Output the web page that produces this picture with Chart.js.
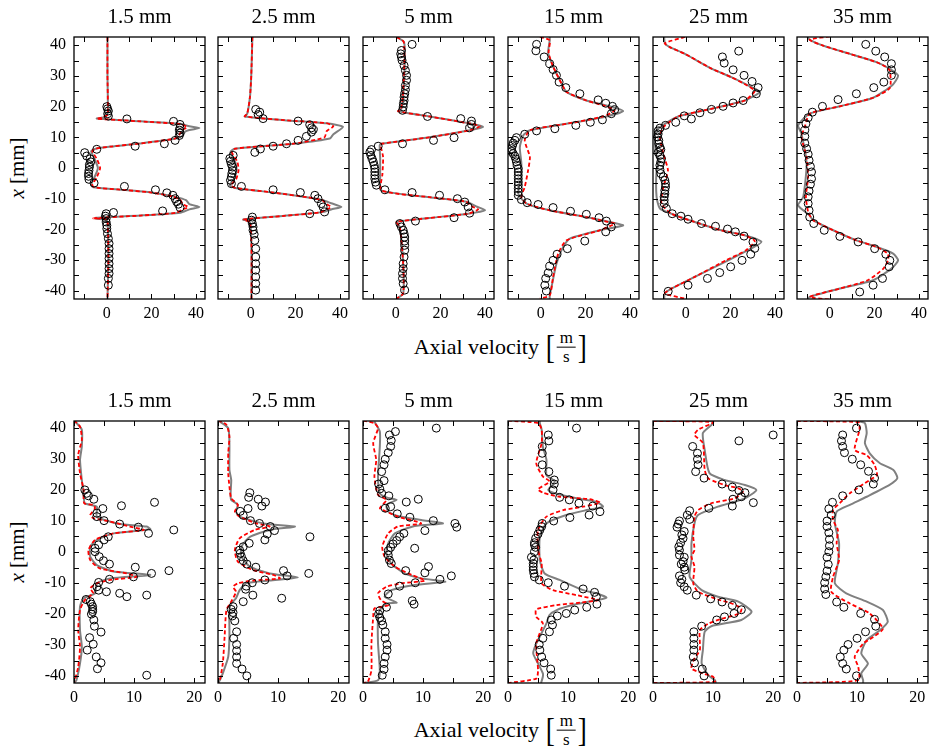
<!DOCTYPE html>
<html><head><meta charset="utf-8">
<script src="https://cdn.jsdelivr.net/npm/chart.js@4.4.1/dist/chart.umd.min.js"></script>
<style>
html,body{margin:0;padding:0;background:#fff;}
#wrap{position:relative;width:933px;height:746px;overflow:hidden;background:#fff;}
canvas{position:absolute;}
.ylab{position:absolute;transform:translate(-50%,-50%) rotate(-90deg);font-family:'Liberation Serif','Times New Roman','DejaVu Serif',serif;font-size:21px;white-space:nowrap;color:#000;}
.vel{position:absolute;transform:translate(-50%,-50%);font-family:'Liberation Serif','Times New Roman','DejaVu Serif',serif;font-size:22px;display:flex;align-items:center;white-space:pre;color:#000;}
.bk{font-size:34px;line-height:1;display:inline-block;transform:scaleX(0.8);}
.fr{display:inline-flex;flex-direction:column;align-items:center;font-size:17px;line-height:1.05;margin:0 1px;}
.fr .n{border-bottom:1px solid #000;padding:0 3px;}
</style></head>
<body><div id="wrap">
<div class="ylab" style="left:17px;top:168px"><i>x</i> [mm]</div>
<div class="ylab" style="left:17px;top:552px"><i>x</i> [mm]</div>
<div class="vel" style="left:501px;top:347px">Axial velocity <span class="bk">[</span><span class="fr"><span class="n">m</span><span class="d">s</span></span><span class="bk">]</span></div>
<div class="vel" style="left:501px;top:730px">Axial velocity <span class="bk">[</span><span class="fr"><span class="n">m</span><span class="d">s</span></span><span class="bk">]</span></div>
</div>
<script>
// ---------------- DATA ----------------
const distances = ["1.5 mm","2.5 mm","5 mm","15 mm","25 mm","35 mm"];
const yTicks = [-40,-35,-30,-25,-20,-15,-10,-5,0,5,10,15,20,25,30,35,40];
const yTickLabels = [-40,-30,-20,-10,0,10,20,30,40];
const xTicksTop = [-10,0,10,20,30,40];
const xTickLabelsTop = [0,20,40];
const xTicksBottom = [0,5,10,15,20];
const xTickLabelsBottom = [0,10,20];

// pairs are [axial velocity, x position mm]
// ---- top row ----
const T1_gray = [[0.3,42.7],[0.3,30],[0.5,20],[0.3,17.5],[-1.5,16.5],[-4.5,16.1],[15,15.2],[33,14.4],[37,13.6],[41.5,13],[37,12.4],[35,11.8],[34,10.5],[31,9.6],[15,8],[2,7],[-5,6.3],[-7,5.5],[-5.5,3],[-4,0],[-5.5,-3],[-7,-5.5],[-6,-6.3],[5,-7],[20,-8],[31,-9.5],[35.5,-10.5],[37,-11.8],[41.5,-12.7],[37,-13.5],[33,-14.6],[15,-15.5],[-5,-16.2],[-5,-16.5],[0,-17],[0.5,-20],[0.7,-30],[0.3,-42.7]];
const T1_red = [[0.3,42.7],[0.3,30],[0.5,20],[0.3,17.3],[-2,16.5],[-4.5,16.1],[15,15.2],[33,14.3],[36,13.3],[34,12.5],[33,11.5],[32,10.3],[30,9.5],[15,8],[2,7],[-5,6.3],[-6.5,5.5],[-4.5,3],[-3,0],[-4.5,-3],[-6.5,-5.5],[-5.5,-6.3],[5,-7],[20,-8],[30,-9.4],[33,-10.5],[34,-11.8],[36.5,-12.7],[34,-13.5],[31,-14.6],[15,-15.5],[-6,-16.4],[0,-16.8],[0.5,-20],[0.7,-30],[0.3,-42.7]];
const T1_exp = [[0,20],[0.3,19.3],[0.7,18.6],[0.4,17.7],[0.7,16.9],[9,16],[29.9,15.2],[32.8,14.2],[32.8,13.1],[32.5,12.3],[32.8,11.4],[32.5,10.6],[30.6,9],[25.8,7.9],[12.7,7.1],[-4.5,6.1],[-9.9,5],[-9,3.9],[-7.5,3],[-7.2,2],[-7.8,1.1],[-7.8,0.3],[-8,-0.8],[-8.2,-1.8],[-8.2,-2.7],[-8,-3.7],[-5.7,-4.9],[7.9,-6],[21.8,-7.1],[26.9,-8.1],[29.6,-8.9],[30.6,-10],[31.3,-11],[32.1,-11.8],[32.8,-12.9],[25,-14],[3,-14.5],[-0.3,-14.9],[-0.6,-15.7],[-0.3,-16.5],[-0.3,-17.6],[0,-18.7],[0,-19.8],[0.3,-21.4],[0.7,-23],[1,-24.6],[1,-26.3],[1,-27.9],[1,-29.5],[1,-31.2],[1,-32.8],[1,-34.4],[0.7,-36],[0.7,-38.2]];

const T2_gray = [[0.7,42.7],[0.2,30],[-0.4,23],[-1.6,17.7],[-2.7,16.8],[15,15.6],[33.9,14.6],[41.3,13.4],[37,11],[35.4,9.6],[20,8],[0,6.8],[-7.2,6.3],[-9.1,5.2],[-7,2],[-6.4,-0.8],[-7.5,-3.5],[-9.4,-5.6],[-7,-6.5],[10,-8],[25,-9.5],[32.4,-10.5],[36,-11.5],[40.6,-12.7],[36,-13.5],[33,-14.3],[15,-15.6],[-3.4,-16.8],[-0.4,-17.6],[0.3,-25.7],[0.3,-42.8]];
const T2_red = [[0.7,42.7],[0.2,30],[-0.4,23],[-1.6,17.7],[-2.7,16.8],[15,15.6],[33.9,14.6],[37,13.6],[34,12],[33,10],[20,8],[0,6.8],[-7,6.3],[-8.5,5.2],[-6,2],[-5.5,-0.8],[-6.5,-3.5],[-8.8,-5.6],[-7,-6.5],[10,-8],[25,-9.5],[32,-10.5],[34,-11.8],[36,-12.7],[33,-13.8],[31,-14.5],[15,-15.6],[-3.4,-16.8],[-0.4,-17.6],[0.3,-25.7],[0.3,-42.8]];
const T2_exp = [[2.2,19.1],[4,18.2],[3.3,17.4],[5.5,16.1],[21.2,15.3],[26.4,14.1],[27.2,13.1],[28,12.5],[27.2,11.7],[24.9,10.3],[21.2,9],[16,7.9],[10,7.1],[4.3,6.2],[1.8,5.1],[-7.9,4.1],[-9.4,3.1],[-9.1,2.2],[-8.7,1.2],[-8.2,0.3],[-8.2,-0.8],[-8.5,-1.8],[-8.7,-2.9],[-9.1,-4],[-8.7,-5.1],[-4.2,-6],[10,-7.1],[22.2,-8],[28.7,-8.9],[30.1,-10],[31.6,-11.6],[32.4,-12.7],[33.1,-14.3],[26.4,-14.9],[0.7,-16],[0.3,-17],[0.7,-18.1],[1,-19.2],[1,-20.3],[1.5,-21.6],[1.8,-23.6],[2.2,-26.3],[2.2,-29],[2.2,-31.2],[2.2,-33.3],[2.2,-35.5],[2.2,-37.7],[2.2,-39.8]];

const T3_gray = [[0.3,42.7],[3.7,41],[4,34],[3.3,23],[2.5,19.3],[1,18.5],[15,16.8],[33.9,14.4],[39.1,13.4],[33.1,12.3],[15,10],[-6.4,7.9],[-7.2,7.4],[-7,3],[-7,-3],[-6.7,-7.3],[15,-9.5],[31.6,-11],[36,-12.5],[39.9,-13.8],[32.4,-14.9],[15,-16.3],[0.3,-17.6],[1.8,-19.2],[3.3,-31.2],[3.3,-40.9],[0.3,-42.6]];
const T3_red = [[0.3,42.7],[3.5,41.2],[3.8,34],[3.1,23],[2.3,19.3],[1,18.5],[15,16.8],[33.9,14.4],[37.6,13.6],[33.1,12.3],[15,10],[-6.4,7.9],[-6.8,7.4],[-5.7,3.6],[-6,-2],[-6.5,-7.3],[15,-9.5],[31.6,-11],[34,-12.5],[36.9,-13.5],[32.4,-14.9],[15,-16.3],[0.3,-17.6],[1.8,-19.2],[3.3,-31.2],[3.3,-40.9],[0.3,-42.6]];
const T3_exp = [[7.3,40.3],[2.5,38.3],[2.2,37.2],[2.5,36.2],[2.8,35.1],[3.7,33.4],[4.3,31.8],[4.8,30.2],[4.8,28.6],[4.3,26.9],[4.3,25.5],[4,24.2],[3.7,23.1],[3.7,22],[3.4,21],[3.3,19.9],[3,18.8],[14.2,16.8],[29.1,16.1],[33.9,15.3],[33.9,14.2],[33.1,13.1],[26.1,9.9],[16.9,9],[3,7.9],[-7.9,7.1],[-10.9,6],[-11.6,5.2],[-11.2,4.1],[-10.6,3],[-10.1,2],[-9.7,0.9],[-9.4,-0.2],[-9.4,-1.3],[-9.4,-2.4],[-9.4,-3.5],[-9.1,-4.6],[-8.7,-5.6],[-4.9,-7.1],[7.3,-8],[19.6,-8.9],[27.6,-10],[30.9,-11.1],[32.4,-12.7],[33.1,-14.7],[26.1,-16.2],[8.8,-17.3],[1.8,-18.1],[2.5,-19.2],[3.3,-20.3],[3.7,-21.4],[4,-22.5],[4,-23.8],[4,-25.2],[4,-26.8],[3.7,-29],[3.3,-31.2],[3.3,-32.8],[3,-34.4],[3,-36],[3.3,-37.7],[4,-39.8]];

const T4_gray = [[4,42.7],[4,41.6],[3.3,37.5],[5.5,33.1],[9.3,27.5],[11.5,24.8],[20.4,22],[29.4,20.4],[36.9,18.6],[29.4,16.8],[11.5,14.4],[-4.9,12.3],[-7.9,10.6],[-9.4,6.8],[-8.7,1.4],[-9.1,-4],[-10.1,-8.4],[-6.4,-11.6],[4,-13.8],[20.4,-16],[30.9,-17.6],[36.9,-18.7],[26.4,-20.3],[13,-23],[10,-25.7],[7,-31.2],[4.8,-38.8],[4,-41.5],[4,-42.7]];
const T4_red = [[-0.4,42.7],[4,41.6],[3.5,37.5],[5.5,33.1],[9.3,27.5],[11.5,24.8],[20.4,22],[28,20.4],[33.1,18.8],[28,16.8],[11.5,14.4],[-4.9,12.3],[-7.2,9],[-4.9,3.6],[-5.7,-0.8],[-7.2,-6.2],[-8.7,-9.4],[-6.4,-11.6],[4,-13.8],[20.4,-16],[29,-17.4],[33.1,-18.1],[26.4,-20.3],[11.5,-23.6],[7.8,-27.9],[5.5,-35.5],[4,-41.5],[-0.4,-42.6]];
const T4_exp = [[-1.9,40.3],[-2.2,38.2],[1.5,36.2],[4,34],[5.5,32.1],[7,30.2],[8.2,28],[11.2,26.2],[17.5,24.2],[25.7,22.2],[29.1,21.1],[32.1,20.1],[33.1,19],[31.6,17.7],[27.6,15.7],[22.2,14.9],[15.7,13.9],[6.3,12.8],[-1.9,12.1],[-7.2,11],[-10.9,9.9],[-11.6,9],[-12.4,8.1],[-12.7,7.3],[-13.1,6.3],[-13.1,5.4],[-12.4,4.7],[-11.6,3.8],[-11.2,2.9],[-10.9,2],[-10.6,0.9],[-10.1,-0.2],[-10.1,-1.3],[-10.1,-2.4],[-10.1,-3.5],[-10.1,-4.6],[-10.1,-5.6],[-10.1,-6.7],[-10.1,-7.8],[-10.1,-8.9],[-8.7,-10.3],[-6.1,-11.3],[-1.2,-11.9],[5.5,-12.9],[13.3,-14.1],[20.4,-15.1],[26.1,-16.2],[29.4,-17.3],[31.6,-19.2],[29.1,-20.8],[19.7,-23.8],[11.9,-26.3],[7.3,-28.1],[5.5,-30.1],[4,-32],[3.3,-34.2],[2.2,-36],[1.8,-38.2],[2.5,-40.1]];

const T5_gray = [[-9.7,42.7],[-9.4,40.7],[-7.2,39.4],[-0.4,37.2],[11.5,32.4],[20.4,29.6],[27.9,26.9],[33.1,24.8],[26.4,22],[11.5,19.3],[-3.4,16.8],[-9.4,14.4],[-13.1,12.3],[-13.9,10.1],[-13.1,3.6],[-12,2],[-13.1,-0.8],[-13.1,-9.4],[-11.6,-13.2],[-6.4,-14.9],[4,-17.6],[15.8,-20.3],[26.4,-21.9],[33.9,-24.1],[27.9,-26.8],[19,-30.1],[4,-35.5],[-6.4,-39.3],[-9.4,-40.9],[-9.7,-42.7]];
const T5_red = [[-0.4,42.7],[-9.4,40.7],[-7.2,39.4],[-0.4,37.2],[11.5,32.4],[20.4,29.6],[27.5,26.9],[30.9,25.1],[26.4,22],[11.5,19.3],[-3.4,16.8],[-10.1,13.3],[-11.6,10.1],[-10.1,4.7],[-8,-0.8],[-10.1,-6.2],[-10.9,-11.6],[-6.4,-14.9],[4,-17.6],[15.8,-20.3],[26,-21.9],[30.9,-23.8],[27,-26.8],[18,-30.1],[4,-35.5],[-6.4,-39.3],[-9.4,-40.9],[-0.4,-42.6]];
const T5_exp = [[23.7,38.1],[16.4,36.2],[17.2,34.2],[21.2,32],[26.1,30.2],[29.7,28.2],[32.4,26.2],[31.6,24.2],[25.7,22],[21.2,21.2],[16.7,20.1],[11.5,19.1],[6.3,18],[-0.7,17],[2.5,16],[-4.5,14.9],[-9.1,13.9],[-11.6,13],[-12.4,12.1],[-12.4,11.1],[-12.7,10.1],[-12.1,9],[-12.1,7.9],[-11.6,6.8],[-11.2,6],[-12.4,5.1],[-11.6,4.1],[-10.9,3],[-11.2,2],[-11.6,0.9],[-11.6,-0.5],[-11.2,-1.8],[-10.1,-2.9],[-9.4,-4],[-9.1,-5.1],[-9.1,-6.2],[-9.4,-7.3],[-9.4,-8.4],[-9.7,-9.4],[-9.7,-10.5],[-9.7,-11.6],[-8.7,-13.2],[-6.1,-14.9],[-2.2,-15.7],[1,-16.7],[7,-18.1],[13.3,-19],[18.7,-19.9],[22.2,-20.8],[26.1,-22.2],[30.1,-24.1],[30.9,-26.2],[29.1,-28.1],[25.2,-30.1],[20.1,-32.2],[15.2,-34.1],[9.7,-36],[1,-38.2],[-7.9,-40.2]];

const T6_gray = [[-10,42.7],[-9,41.8],[-3,39.9],[9,37.2],[20.9,34.5],[26.9,32.3],[30.6,30.1],[28,27],[19.4,22.9],[4.5,20.1],[-9,17.7],[-14.2,13.9],[-12.7,11.2],[-10.4,1.4],[-11.9,-9.4],[-14.2,-12.2],[-9,-15.5],[-7.5,-17],[1.5,-20.3],[11.9,-23.6],[20.9,-25.7],[28.4,-27.9],[30.6,-30.1],[27.6,-32.8],[19.4,-36.6],[4.5,-39.3],[-9,-42],[-10,-42.7]];
const T6_red = [[0,42.9],[-9,41.8],[-3,39.9],[9,37.2],[20.9,34.5],[25,33],[26.9,31.7],[26.9,26.1],[19.4,22.9],[4.5,20.1],[-9,17.7],[-11.2,13.4],[-12.7,10.1],[-10.4,3.6],[-9.7,-2.9],[-10.7,-9.4],[-9.7,-14.3],[-7.5,-17],[1.5,-20.3],[11.9,-23.6],[20.9,-25.7],[26,-28],[26.1,-30.1],[24,-32.8],[17,-36.6],[4.5,-39.3],[-9,-42],[0,-42.9]];
const T6_exp = [[16.1,40.3],[20.6,38.1],[24.6,36.2],[27.6,34],[27.6,32],[27.6,30.2],[24.2,28],[19.7,26.2],[11.9,24.2],[3.7,22.3],[-3.3,20.1],[-7.8,18.2],[-9.7,16.4],[-10.7,14.4],[-11.2,12.3],[-11.2,10.3],[-11.2,8.1],[-10.4,6.3],[-9.7,4.5],[-9.3,2.5],[-8.7,0.5],[-8.2,-1.3],[-8.2,-3.5],[-8.7,-5.3],[-9.3,-7.5],[-9.7,-9.4],[-9.7,-11.6],[-9.3,-13.8],[-9,-16],[-7.2,-18.1],[-2.5,-20.3],[4.5,-22.3],[12.7,-24.1],[20.1,-26.3],[25.1,-28.1],[26.9,-30.1],[26.6,-32.2],[23.6,-36],[19.4,-38.2],[13.4,-40.4]];

// ---- bottom row ----
const B1_gray = [[0.2,42],[1.3,39.4],[1.3,34],[1,29.7],[1.3,23.2],[1.6,18.9],[1.8,15.7],[3.8,14.6],[3.8,11.4],[7.1,9.2],[12.1,8.2],[12.7,7.3],[6.6,6],[3.8,3.9],[2.7,1.7],[2.7,-1.5],[3.8,-4.2],[6.6,-6.3],[12.7,-7.4],[6,-8.5],[3.8,-10.1],[3.5,-13.3],[1.6,-14.9],[1,-17.6],[1,-25.2],[1.3,-30.5],[1,-35.9],[0.4,-41.3],[0,-42.2]];
const B1_red = [[0,42.4],[1,40.4],[1.3,36.1],[0.7,31.3],[1,25.4],[1.6,20],[1.7,15.7],[3.2,15.2],[3.5,14.1],[2.7,11.9],[3.2,10.9],[6,9.8],[9.3,8.2],[11.6,7.1],[6.6,6],[3.5,3.9],[2.4,0.6],[2.7,-2.6],[4.3,-5.3],[8.8,-6.9],[10.4,-8],[6,-9],[3.8,-10.1],[2.7,-11.7],[3.2,-13.3],[1.8,-15.5],[1,-18.7],[0.7,-25.2],[1,-30.5],[0.7,-37],[0,-42.2]];
const B1_exp = [[13.4,16],[7.9,14.9],[1.8,20],[2.1,18.9],[2.4,18.1],[3.3,17],[4.8,14],[3.8,12.5],[3.8,11.4],[5,10.1],[7.6,9],[10.7,8],[16.6,7.1],[12.4,6],[5.7,4.9],[5,3.9],[4.1,2.3],[3.5,1.2],[3.5,0.1],[4.2,-1.5],[4.9,-2.8],[5.9,-3.9],[10.2,-4.9],[15.8,-6],[12.9,-6.9],[9.9,-8],[5.9,-8.8],[4.1,-9.8],[3.8,-11.2],[4.1,-12.3],[5.4,-12.8],[7.6,-13.3],[8.8,-14.4],[12.1,-13.9],[2,-15.3],[2.7,-16],[2.9,-16.8],[3.1,-17.6],[3.1,-18.5],[3.1,-19.2],[2.9,-20],[3.3,-21.9],[3.4,-23.9],[4.5,-25.8],[2.6,-27.6],[3.2,-29.7],[2.2,-31.6],[3.7,-33.8],[4.5,-35.7],[3.9,-37.6],[12.1,-39.7]];

const B2_gray = [[0.3,42],[1.7,39.9],[1.9,35.1],[1.9,26.5],[2.2,23.2],[2.1,18.9],[2.2,16.8],[3.3,15.2],[3,13],[3.6,11.4],[7.5,9.2],[12.8,8.2],[8.6,7.1],[5.3,4.9],[3.9,1.7],[3.9,-1.5],[5.3,-4.7],[8.6,-6.9],[13.3,-8.2],[8.6,-9.2],[4.7,-10.1],[3.6,-12.3],[3,-14.9],[2.2,-16.6],[1.9,-18.7],[1.9,-27.3],[1.7,-33.8],[0.8,-39.1],[0.3,-41.3],[0,-42.2]];
const B2_red = [[0,42.4],[1.4,41],[1.9,37.2],[1.7,31.8],[1.7,25.4],[1.9,21.1],[2.2,17.3],[3.3,15.2],[2.8,13],[3.6,11.4],[6.4,9.2],[8.6,8.2],[6.1,7.1],[3.6,4.4],[2.8,0.6],[3.3,-3.1],[5.8,-5.8],[9.2,-7.4],[10.3,-8.5],[5.8,-9.2],[3.3,-10.1],[2.5,-11.2],[3,-12.8],[2.2,-16],[1.4,-18.7],[1.1,-27.3],[0.8,-35.9],[0.3,-41.3],[0,-42.2]];
const B2_exp = [[5.3,19.1],[5.1,17.6],[6.7,17],[7.9,16.1],[7.3,14.8],[5,14],[3.7,13.1],[4.2,11.8],[5.4,10.1],[6.9,9.2],[8.7,8.2],[9.4,6.9],[8.2,5.8],[7.8,3.9],[5.2,2.8],[4.2,1.7],[3.6,0.6],[3.7,-0.4],[3.9,-1.5],[4.2,-2.8],[4.8,-3.9],[6.3,-4.9],[15.3,4.9],[10.9,-6],[15.1,-6.9],[11.5,-7.7],[7.8,-9],[5.7,-9.9],[4.7,-11],[4.6,-12],[5.8,-13.9],[10.6,-14.9],[4.2,-16],[2.5,-17.6],[2.2,-18.5],[2.5,-19.5],[2.4,-20.6],[2.8,-22.2],[3.1,-25.7],[2.6,-27.8],[3.1,-29.8],[3.1,-31.8],[3.1,-33.8],[3.1,-35.9],[4,-37.7],[4.8,-39.9]];

const B3_gray = [[1.9,42],[2.8,38.8],[2.8,34],[2.5,24.3],[2.8,18.9],[3.9,17.6],[5.6,16.8],[3.9,15.2],[4.2,13],[5.8,11.6],[9.7,10.3],[13.3,9.2],[8.6,8.4],[5.3,6],[4.2,2.8],[3.9,-0.4],[4.7,-3.7],[6.9,-6.9],[9.7,-8.5],[13.7,-9.6],[8.6,-10.6],[4.7,-12.3],[3.6,-14.4],[5.6,-16.3],[3.9,-16.6],[2.8,-18.7],[2.5,-20.9],[2.5,-29.5],[2.8,-38.1],[2.5,-41.3],[0,-42.2]];
const B3_red = [[0,42.3],[1.9,41.5],[2.5,39.9],[1.7,35.1],[2.2,29.7],[1.9,24.3],[2.5,18.4],[3.9,16.8],[2.8,14.1],[3.9,13],[5.8,11.4],[9.7,9.2],[5.8,8.2],[4.2,6],[3.2,1.7],[3.6,-1.5],[5.3,-4.7],[8.1,-7.4],[10.3,-9.2],[6.4,-10.1],[3.9,-11.2],[2.5,-13.3],[3,-15.5],[4.2,-17.1],[1.9,-18.2],[1.7,-20.9],[1.4,-29.5],[1.4,-38.1],[0.8,-41.8],[0,-42.2]];
const B3_exp = [[12.2,39.9],[5.4,38.8],[4.4,37.7],[4.7,35.9],[4.6,34],[4.2,32],[3.7,29.9],[3.5,28.1],[3.1,25.9],[3.5,23],[2.6,21.9],[2.8,20.3],[3.1,18.9],[4.3,18.1],[7.2,16.1],[9.2,17],[3.7,14.1],[4.6,14.6],[5.7,12.3],[7.8,11.2],[11.7,10.1],[15.3,9.2],[15.6,8],[10.3,6.9],[6.8,6],[6.1,4.9],[5.6,3.7],[5,2.6],[4.6,1.5],[4.2,0.4],[8.6,1.2],[4.2,-1],[4.4,-2.6],[4.7,-3.7],[10.9,-4.7],[10.3,-6.7],[7.1,-6],[14.7,-7.7],[12.8,-8.8],[8.7,-9.9],[6.1,-11],[4.2,-13.5],[8.2,-15.7],[8.5,-16.8],[3.9,-17.8],[2.8,-18.9],[2.6,-20],[2.8,-21.1],[3.1,-22.2],[3.3,-23.5],[3.7,-25.7],[3.7,-27.8],[4,-29.8],[4,-31.6],[3.7,-33.8],[3.5,-35.9],[3.5,-37.8],[3.2,-39.7]];

const B4_gray = [[5.3,42.2],[5.3,41.5],[5.6,39.4],[5.8,34],[6.4,29.7],[6.4,24.8],[7.8,22.7],[6.7,20],[7.8,18.9],[11.4,17.3],[14.7,16.2],[15.8,14.6],[13.1,13.5],[9.7,11.9],[6.4,9.2],[5.3,4.9],[5.3,-2.6],[6.1,-6.9],[8.6,-9],[12.5,-12.3],[14.7,-13.3],[16.4,-14.7],[14.7,-15.5],[10.8,-17.1],[8.1,-18.7],[6.9,-20.3],[6.4,-23],[4.7,-29.5],[4.2,-32.7],[5,-35.9],[5.8,-39.1],[5.8,-40.2],[5.5,-42.2]];
const B4_red = [[0,42.3],[5,41.5],[5.6,39.4],[5.6,35.1],[4.7,28.6],[5.8,24.3],[6.9,22.7],[5,20.2],[5.8,19.1],[8.6,17.8],[13.6,17],[15.3,15.9],[12.5,14.6],[9.2,13.5],[6.4,11.4],[5,7.1],[5,0.6],[5.6,-3.7],[5.6,-10.1],[7.5,-12.3],[11.4,-13.9],[15,-15.5],[12,-16.3],[8.1,-17.1],[4.7,-18.5],[4.7,-20.9],[5.8,-23],[4.7,-29.5],[5,-38.1],[4.7,-40.8],[0,-42.2]];
const B4_exp = [[11.4,39.9],[6.7,37.7],[6.8,35.8],[5.7,34],[5.7,31.8],[5.7,28.1],[6.8,25.9],[7.7,23.2],[7.7,21.9],[7.5,20],[8.6,17.6],[10.2,16.8],[11.8,15.7],[14.1,14.8],[15.3,13],[13.5,11.9],[10.3,11.1],[7.6,10],[5.7,9.2],[5.6,8.2],[5.3,7.1],[5,5.8],[4.6,4.4],[4.4,3],[4.4,2.3],[4.6,1.5],[4.4,0.1],[3.9,-1.7],[4.3,-2.6],[4.2,-3.7],[4.2,-4.7],[4.2,-5.8],[4.3,-6.9],[4.4,-8],[5.2,-9],[6.7,-9.9],[9.4,-11],[12.5,-11.9],[14.4,-13],[14.7,-14.4],[14.8,-16.8],[13.1,-17.8],[11.1,-18.7],[9.7,-19.8],[8.2,-20.6],[7.2,-21.9],[7.4,-23.5],[6.9,-25.7],[5.8,-27.8],[5.2,-29.8],[5.3,-31.6],[5.6,-33.8],[6,-35.7],[7.1,-37.7],[7.2,-39.7]];

const B5_gray = [[0,42.2],[10,42.2],[9.7,40.9],[8.3,38.3],[8.6,32.9],[9.4,25.4],[11.9,23.2],[15.3,21.6],[17.2,20],[15.3,17.3],[10.8,14.6],[7.5,11.9],[6.9,9.2],[6.4,2.8],[6.4,-2.6],[6.1,-8],[8.1,-12.3],[10.8,-14.4],[14.2,-16],[16.4,-19.2],[14.7,-21.9],[9.7,-23.9],[8.6,-25.7],[8.3,-31.6],[8.1,-35.9],[9.2,-39.7],[10.3,-41.3],[10.5,-42.2]];
const B5_red = [[0,42.2],[10,41.8],[7.5,39.4],[6.9,37.7],[8.3,35.1],[8.6,26.5],[9.2,23.7],[11.9,21.6],[14.2,20.5],[15,19.5],[13.6,17.3],[9.7,15.7],[7.5,13.5],[6.9,11.4],[6.7,4.9],[6.9,0.6],[6.4,-1.5],[6.9,-4.7],[6.7,-10.1],[7.5,-12.8],[10.8,-15.3],[13.1,-16.6],[14.7,-18.2],[14.4,-19.8],[11.4,-21.5],[9.2,-23.1],[7.8,-25.2],[7.8,-31.6],[6.9,-34.3],[6.4,-37.5],[8.3,-39.1],[10,-40.2],[10.3,-41.8],[0,-42.2]];
const B5_exp = [[20,37.7],[14.3,35.8],[6.6,34],[7.4,31.8],[7.4,29.9],[7.5,28.1],[7.1,25.9],[8.5,23.8],[11.5,21.9],[13.2,20.9],[14.3,19.8],[15.3,19.1],[14.7,17.8],[13.3,17],[16.7,15.9],[13.2,14.8],[9.3,14.1],[6.1,13.3],[5.7,11.9],[6.1,10.5],[4.4,10],[4.2,9],[4,8],[5.2,6.6],[4.8,5.5],[5,4.4],[4.6,3],[4.3,1.7],[4.4,0.6],[4.4,-1],[5.2,-1.7],[5,-3.1],[4.7,-3.9],[5.2,-4.9],[5.3,-5.8],[4.4,-7.7],[4.8,-8.8],[4.6,-9.9],[5.2,-11.2],[5.7,-12.3],[7.2,-13.9],[9.6,-15.1],[11.5,-16.1],[13.2,-17.2],[14.7,-18.6],[13.5,-19.8],[11.9,-20.9],[10.6,-21.9],[8.1,-23.9],[6.8,-25.7],[6.8,-27.8],[6.8,-29.8],[6.8,-31.6],[6.7,-33.8],[6.9,-35.7],[8.2,-37.7],[8.5,-39.9]];

const B6_gray = [[10.2,42.2],[11.3,41.5],[11.6,38.3],[11.3,35.1],[12.1,31.8],[13.8,28.6],[16,26.5],[16.7,23.8],[15.4,21.6],[11.6,17.8],[8.8,15.2],[6.6,13],[6.3,9.2],[7,2.8],[6.8,-3.7],[6.3,-10.1],[8.2,-13.3],[11.6,-16],[14.3,-18.7],[15.1,-22.5],[13.8,-25.2],[11.6,-28.4],[10.7,-32.7],[11.8,-35.9],[10.7,-39.1],[11,-41.3],[11,-42.2]];
const B6_red = [[0,42.2],[10.2,41.8],[10.4,39.4],[9.6,32.9],[11.6,31.2],[12.9,28.1],[13.3,24.8],[12.1,23.2],[8.8,18.9],[7.1,15.7],[6,13.5],[6,10.3],[6.8,7.1],[6.6,2.8],[7,-2.6],[6,-8],[5.7,-12.8],[8.8,-16.6],[12.1,-19.8],[14.3,-24.7],[12.7,-27.4],[11,-29.5],[9.6,-33.8],[10.2,-37],[10.2,-41.3],[0,-42.2]];
const B6_exp = [[9.9,39.9],[7.6,37.7],[7.4,35.8],[7.6,34],[7.9,32],[9.2,29.9],[10.6,28.1],[11.9,26],[12.9,23.8],[12.7,21.9],[10.3,20],[7.6,18.1],[5.9,16],[5.3,13.9],[5.7,11.9],[5,10],[5,8.2],[5.3,6.2],[5.4,4.1],[5.4,2],[5.3,0.1],[5,-1.7],[5.2,-4],[5,-6.1],[4.8,-8],[4.6,-9.9],[4.6,-11.9],[4.8,-13.7],[6.6,-16.1],[7.8,-17.8],[10.6,-19.8],[12.9,-21.7],[13.1,-23.9],[11.4,-25.7],[10,-27.8],[8.5,-29.8],[7.8,-31.6],[7.2,-33.8],[7.6,-35.9],[8.2,-37.7],[9.9,-39.9]];

// ---------------- LAYOUT / DRAW ----------------
const panels = [
  [T1_gray,T1_red,T1_exp],[T2_gray,T2_red,T2_exp],[T3_gray,T3_red,T3_exp],
  [T4_gray,T4_red,T4_exp],[T5_gray,T5_red,T5_exp],[T6_gray,T6_red,T6_exp],
  [B1_gray,B1_red,B1_exp],[B2_gray,B2_red,B2_exp],[B3_gray,B3_red,B3_exp],
  [B4_gray,B4_red,B4_exp],[B5_gray,B5_red,B5_exp],[B6_gray,B6_red,B6_exp]
];
const plotLefts = [74,218,363,508,653,797];
const plotTops = [37,421];
const PW = 131, PH = 262, TH = 32, BH = 30, RP = 12;
const FONT = "'Liberation Serif', 'Times New Roman', 'DejaVu Serif', serif";
Chart.defaults.font.family = FONT;
Chart.defaults.color = '#000';

const framePlugin = {
  id: 'frameTicks',
  afterDatasetsDraw(chart) {
    const {ctx, chartArea: a, scales} = chart;
    const x = scales.x, y = scales.y;
    ctx.save();
    ctx.strokeStyle = '#000';
    ctx.lineWidth = 1;
    ctx.beginPath();
    for (const t of x.ticks) {
      const px = Math.round(x.getPixelForValue(t.value)) + 0.5;
      ctx.moveTo(px, a.bottom); ctx.lineTo(px, a.bottom - 5);
      ctx.moveTo(px, a.top); ctx.lineTo(px, a.top + 5);
    }
    for (const t of y.ticks) {
      const py = Math.round(y.getPixelForValue(t.value)) + 0.5;
      ctx.moveTo(a.left, py); ctx.lineTo(a.left + 5, py);
      ctx.moveTo(a.right, py); ctx.lineTo(a.right - 5, py);
    }
    ctx.stroke();
    ctx.lineWidth = 1.3;
    ctx.strokeRect(a.left, a.top, a.right - a.left, a.bottom - a.top);
    ctx.restore();
  }
};

const wrap = document.getElementById('wrap');
const toXY = arr => arr.map(([v, p]) => ({x: v, y: p}));

panels.forEach((p, k) => {
  const row = Math.floor(k / 6), col = k % 6;
  const L = col === 0 ? 70 : 20;
  const cv = document.createElement('canvas');
  const W = L + PW + RP, H = TH + PH + BH;
  cv.width = W; cv.height = H;
  cv.style.left = (plotLefts[col] - L) + 'px';
  cv.style.top = (plotTops[row] - TH) + 'px';
  cv.style.width = W + 'px'; cv.style.height = H + 'px';
  wrap.appendChild(cv);
  const top = row === 0;
  const xt = top ? xTicksTop : xTicksBottom;
  const xl = top ? xTickLabelsTop : xTickLabelsBottom;
  const ylim = top ? 42.7 : 42.2;
  new Chart(cv, {
    type: 'scatter',
    data: {
      datasets: [
        {label: 'Experiment', data: toXY(p[2]), showLine: false, pointStyle: 'circle', pointRadius: 4, pointBorderWidth: 1, pointBorderColor: '#000', pointBackgroundColor: 'rgba(0,0,0,0)', order: 0},
        {label: 'Model B', data: toXY(p[1]), showLine: true, pointRadius: 0, borderColor: '#ff0000', borderWidth: 1.8, borderDash: [4, 2.5], tension: 0.2, order: 1},
        {label: 'Model A', data: toXY(p[0]), showLine: true, pointRadius: 0, borderColor: '#808080', borderWidth: 2, tension: 0.2, order: 2}
      ]
    },
    options: {
      responsive: false, animation: false, devicePixelRatio: 1,
      events: [],
      layout: {padding: {left: 0, right: RP, top: 0, bottom: 0}, autoPadding: false},
      plugins: {
        legend: {display: false}, tooltip: {enabled: false},
        title: {display: true, fullSize: false, text: distances[col], color: '#000',
          font: {size: 21, family: FONT, weight: 'normal', lineHeight: 1.2}, padding: {top: 0, bottom: TH - 25.2}}
      },
      scales: {
        x: {
          type: 'linear', min: top ? -14.7 : 0, max: top ? 44 : 21.8,
          afterBuildTicks: s => { s.ticks = xt.map(v => ({value: v})); },
          afterFit: s => { s.height = BH; },
          grid: {display: false, drawTicks: false}, border: {display: false},
          ticks: {autoSkip: false, maxRotation: 0, padding: 5, color: '#000', font: {size: 16, family: FONT},
            callback: v => xl.includes(v) ? String(v) : ''}
        },
        y: {
          type: 'linear', min: -ylim, max: ylim,
          afterBuildTicks: s => { s.ticks = yTicks.map(v => ({value: v})); },
          afterFit: s => { s.width = L; },
          grid: {display: false, drawTicks: false}, border: {display: false},
          ticks: {display: col === 0, autoSkip: false, padding: 8, color: '#000', font: {size: 16, family: FONT},
            callback: v => yTickLabels.includes(v) ? String(v) : ''}
        }
      }
    },
    plugins: [framePlugin]
  });
});
</script>
</body></html>
